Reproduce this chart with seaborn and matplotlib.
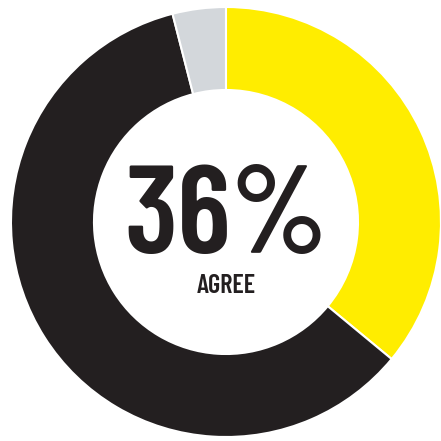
import matplotlib
matplotlib.use('Agg')
import matplotlib.pyplot as plt
import seaborn as sns

# Share of answers, clockwise from 12 o'clock
labels = ['Agree', 'Disagree', 'Not sure']
shares = [36, 60, 4]
colors = ['#FFED00', '#231F20', '#D3D7DB']
big_text = '36%'
small_text = 'AGREE'

sns.set_style('white')
plt.rcParams['font.family'] = ['Barlow Condensed', 'DejaVu Sans']

fig = plt.figure(figsize=(4.41, 4.41), dpi=100)
ax = fig.add_axes([0, 0, 1, 1])

ax.pie(shares, colors=colors, startangle=90, counterclock=False, radius=1.0,
       wedgeprops=dict(width=0.386, edgecolor='white', linewidth=1.5))

ax.text(0, -0.144, big_text, ha='center', va='baseline', fontsize=90,
        fontweight=600, color='#231F20')
ax.text(0, -0.330, small_text, ha='center', va='baseline', fontsize=19,
        fontweight=600, color='#231F20')

ax.set_xlim(-1.051, 1.0)
ax.set_ylim(-1.0186, 1.0326)
ax.set_aspect('equal')
ax.axis('off')

fig.savefig('out.png', dpi=100, facecolor='white')
